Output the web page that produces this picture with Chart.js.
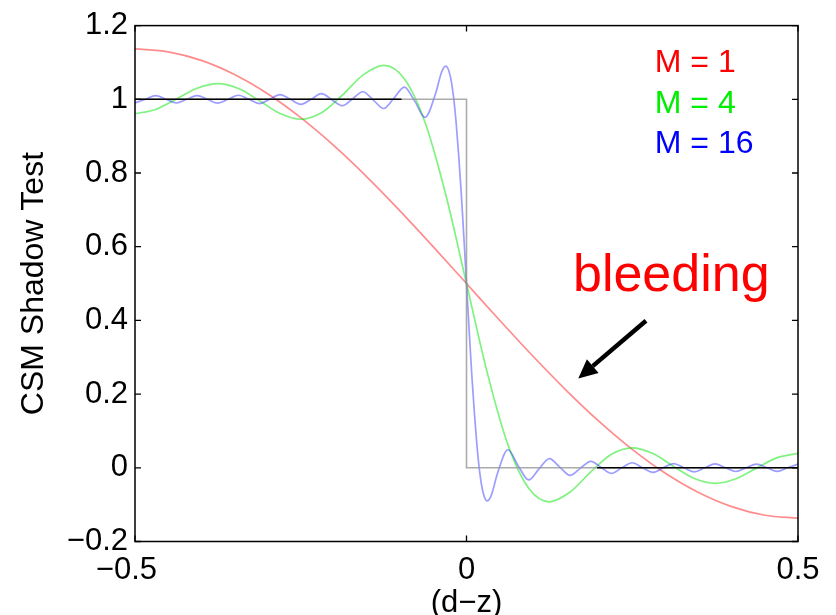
<!DOCTYPE html>
<html><head><meta charset="utf-8">
<script src="https://cdn.jsdelivr.net/npm/chart.js@4.4.0/dist/chart.umd.min.js"></script>
<style>html,body{margin:0;padding:0;background:#fff;overflow:hidden}#wrap{width:836px;height:615px}</style>
</head><body><div id="wrap"><canvas id="c" width="836" height="615"></canvas></div>
<script>
// ---- data ----
const xTickValues = [-0.5, 0, 0.5];
const xTickLabels = ['\u22120.5  ', '0', '0.5'];
const yTickValues = [-0.2, 0, 0.2, 0.4, 0.6, 0.8, 1, 1.2];
const yTickLabels = ['\u22120.2', '0', '0.2', '0.4', '0.6', '0.8', '1', '1.2'];

const seriesNames = ['M = 1', 'M = 4', 'M = 16'];

const m1X = [-0.5,-0.45,-0.4,-0.35,-0.3,-0.25,-0.2,-0.15,-0.1,-0.05,0,0.05,0.1,0.15,0.2,0.25,0.3,0.35,0.4,0.45,0.5];
const m1Y = [1.1366,1.1288,1.1055,1.0672,1.0150,0.9502,0.8742,0.7890,0.6967,0.5996,0.5,0.4004,0.3033,0.2110,0.1258,0.0498,-0.0150,-0.0672,-0.1055,-0.1288,-0.1366];

const m4X = [-0.5,-0.4688,-0.4375,-0.4063,-0.375,-0.3438,-0.3125,-0.2813,-0.25,-0.2188,-0.1875,-0.1563,-0.125,-0.0938,-0.0625,-0.0313,0,0.0313,0.0625,0.0938,0.125,0.1563,0.1875,0.2188,0.25,0.2813,0.3125,0.3438,0.375,0.4063,0.4375,0.4688,0.5];
const m4Y = [0.9608,0.9725,1.0009,1.0299,1.0423,1.0292,0.9964,0.9614,0.9459,0.9635,1.0110,1.0656,1.0922,1.0558,0.9372,0.7417,0.5,0.2583,0.0628,-0.0558,-0.0922,-0.0656,-0.0110,0.0365,0.0541,0.0386,0.0036,-0.0292,-0.0423,-0.0299,-0.0009,0.0275,0.0392];

const m16X = [-0.5,-0.4844,-0.4688,-0.4531,-0.4375,-0.4219,-0.4063,-0.3906,-0.375,-0.3594,-0.3438,-0.3281,-0.3125,-0.2969,-0.2813,-0.2656,-0.25,-0.2344,-0.2188,-0.2031,-0.1875,-0.1719,-0.1563,-0.1406,-0.125,-0.1094,-0.0938,-0.0781,-0.0625,-0.0469,-0.0375,-0.0313,-0.025,-0.02,-0.0156,-0.012,-0.008,-0.004,0,0.004,0.008,0.012,0.0156,0.02,0.025,0.0313,0.0375,0.0469,0.0625,0.0781,0.0938,0.1094,0.125,0.1406,0.1563,0.1719,0.1875,0.2031,0.2188,0.2344,0.25,0.2656,0.2813,0.2969,0.3125,0.3281,0.3438,0.3594,0.375,0.3906,0.4063,0.4219,0.4375,0.4531,0.4688,0.4844,0.5];
const m16Y = [0.990,1.000,1.010,1.000,0.990,1.000,1.010,1.000,0.9895,1.000,1.011,1.000,0.9884,1.000,1.0125,1.000,0.9863,1.000,1.0152,0.999,0.9826,1.001,1.0205,0.998,0.975,1.003,1.033,0.995,0.951,1.014,1.074,1.090,1.067,1.013,0.936,0.853,0.748,0.627,0.5,0.373,0.252,0.147,0.064,-0.013,-0.067,-0.090,-0.074,-0.014,0.049,0.005,-0.033,-0.003,0.025,0.002,-0.0205,-0.001,0.0174,0.001,-0.0152,0,0.0137,0,-0.0125,0,0.0116,0,-0.011,0,0.0105,0,-0.0101,0,0.0099,0,-0.0097,0,0.0099];

const stepX = [-0.5, 0, 0, 0.5];
const stepY = [1, 1, 0, 0];
const blackTopX = [-0.5, -0.098];
const blackTopY = [1, 1];
const blackBotX = [0.197, 0.5];
const blackBotY = [0, 0];

// ---- helpers ----
const pts = (xs, ys) => xs.map((x, i) => ({x: x, y: ys[i]}));
const FONT = '"Liberation Sans", Arial, Helvetica, sans-serif';

const annot = {
  id: 'annot',
  afterDraw(chart) {
    const {ctx, chartArea: a, scales: {x, y}} = chart;
    ctx.save();
    // box frame
    ctx.strokeStyle = '#000';
    ctx.lineWidth = 1.5;
    ctx.strokeRect(a.left, a.top, a.right - a.left, a.bottom - a.top);
    // inward ticks on all four sides
    const tl = 6;
    ctx.beginPath();
    xTickValues.forEach(v => {
      const px = x.getPixelForValue(v);
      ctx.moveTo(px, a.bottom); ctx.lineTo(px, a.bottom - tl);
      ctx.moveTo(px, a.top); ctx.lineTo(px, a.top + tl);
    });
    yTickValues.forEach(v => {
      const py = y.getPixelForValue(v);
      ctx.moveTo(a.left, py); ctx.lineTo(a.left + tl, py);
      ctx.moveTo(a.right, py); ctx.lineTo(a.right - tl, py);
    });
    ctx.lineWidth = 1.3;
    ctx.stroke();

    // legend-like labels
    const legendColors = ['#ff0000', '#00ee00', '#0000ff'];
    const legendY = [1.0743, 0.9627, 0.8553];
    ctx.font = '32px ' + FONT;
    ctx.textAlign = 'left';
    ctx.textBaseline = 'alphabetic';
    seriesNames.forEach((s, i) => {
      ctx.fillStyle = legendColors[i];
      ctx.fillText(s, x.getPixelForValue(0.284), y.getPixelForValue(legendY[i]));
    });

    // "bleeding" annotation
    ctx.font = '52px ' + FONT;
    ctx.fillStyle = '#ff0000';
    ctx.fillText('bleeding', x.getPixelForValue(0.1606), y.getPixelForValue(0.4805));

    // arrow
    const x1 = x.getPixelForValue(0.2707), y1 = y.getPixelForValue(0.3992);
    const x2 = x.getPixelForValue(0.1686), y2 = y.getPixelForValue(0.2424);
    const ang = Math.atan2(y2 - y1, x2 - x1);
    const hl = 19, hw = 9;
    const bx = x2 - hl * Math.cos(ang), by = y2 - hl * Math.sin(ang);
    ctx.strokeStyle = '#000';
    ctx.lineWidth = 4.5;
    ctx.beginPath(); ctx.moveTo(x1, y1); ctx.lineTo(bx, by); ctx.stroke();
    ctx.fillStyle = '#000';
    ctx.beginPath();
    ctx.moveTo(x2, y2);
    ctx.lineTo(bx + hw * Math.sin(ang), by - hw * Math.cos(ang));
    ctx.lineTo(bx - hw * Math.sin(ang), by + hw * Math.cos(ang));
    ctx.closePath(); ctx.fill();
    ctx.restore();
  }
};

const lineDs = (data, color, width, extra) => Object.assign({
  data: data, borderColor: color, borderWidth: width, pointRadius: 0,
  fill: false, tension: 0
}, extra || {});

new Chart(document.getElementById('c'), {
  type: 'line',
  data: {
    datasets: [
      lineDs(pts(blackTopX, blackTopY), '#000000', 1.6),
      lineDs(pts(blackBotX, blackBotY), '#000000', 1.6),
      lineDs(pts(stepX, stepY), 'rgba(150,150,150,0.8)', 1.6),
      lineDs(pts(m16X, m16Y), 'rgba(60,60,255,0.5)', 1.7, {cubicInterpolationMode: 'monotone'}),
      lineDs(pts(m4X, m4Y), 'rgba(0,230,0,0.5)', 1.7, {cubicInterpolationMode: 'monotone'}),
      lineDs(pts(m1X, m1Y), 'rgba(255,0,0,0.45)', 1.7, {cubicInterpolationMode: 'monotone'})
    ]
  },
  options: {
    responsive: false,
    animation: false,
    devicePixelRatio: 1,
    layout: {padding: {left: 0, top: 20, right: 38, bottom: 0}},
    plugins: {legend: {display: false}, tooltip: {enabled: false}},
    scales: {
      x: {
        type: 'linear', min: -0.5, max: 0.5,
        grid: {display: false, drawTicks: false},
        border: {display: false},
        afterBuildTicks: s => { s.ticks = xTickValues.map(v => ({value: v})); },
        afterFit: s => { s.height = 73.5; },
        ticks: {
          autoSkip: false, maxRotation: 0, padding: 10, color: '#000',
          font: {family: FONT, size: 31},
          callback: (v) => xTickLabels[xTickValues.indexOf(v)]
        },
        title: {display: true, text: '(d\u2212z)', color: '#000',
          font: {family: FONT, size: 31, lineHeight: 1}, padding: {top: 0, bottom: -4}}
      },
      y: {
        type: 'linear', min: -0.2, max: 1.2,
        grid: {display: false, drawTicks: false},
        border: {display: false},
        afterBuildTicks: s => { s.ticks = yTickValues.map(v => ({value: v})); },
        afterFit: s => { s.width = 135; },
        ticks: {
          autoSkip: false, padding: 7, color: '#000',
          font: {family: FONT, size: 31},
          callback: (v) => yTickLabels[yTickValues.indexOf(v)]
        },
        title: {display: true, text: 'CSM Shadow Test', color: '#000',
          font: {family: FONT, size: 32, lineHeight: 1}, padding: {top: 18, bottom: 0}}
      }
    }
  },
  plugins: [annot]
});
</script>
</body></html>
